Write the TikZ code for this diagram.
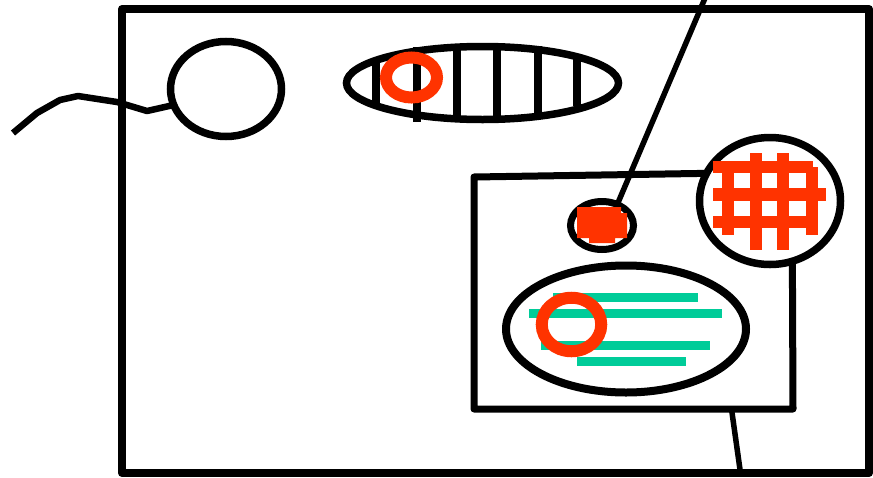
\documentclass[tikz,border=0pt]{standalone}
\usetikzlibrary{shapes.geometric}
\definecolor{hot}{HTML}{FF3300}
\definecolor{mint}{HTML}{00CC99}
\begin{document}
\begin{tikzpicture}[x=1pt,y=-1pt,
  oval/.style={ellipse, draw=black, inner sep=0pt, outer sep=0pt},
  ring/.style={ellipse, draw=hot, inner sep=0pt, outer sep=0pt},
  blackbar/.style={draw=black, line width=8.5pt},
  tealbar/.style={draw=mint, line width=9pt},
  conn/.style={draw=black, line width=5.5pt},
  wire/.style={draw=black, line width=6.5pt, line join=round},
  box/.style={draw=black, line join=round}]
\useasboundingbox (0,0) rectangle (873,477);

% main frame
\node[rectangle, box, line width=8pt, minimum width=747pt, minimum height=464pt, inner sep=0pt, outer sep=0pt] (frame) at (495.5,241) {};

% inner box
\coordinate (itl) at (474,177);
\coordinate (itr) at (792,172);
\coordinate (ibr) at (793,409);
\coordinate (ibl) at (474,409);
\draw[box, line width=7pt] (itl) -- (itr) -- (ibr) -- (ibl) -- cycle;

% bottom connector
\coordinate (ib) at (731.5,409);
\coordinate (fb) at (740.5,473);
\draw[conn] (ib) -- (fb);

% big circle with grid
\node[oval, line width=7.5pt, fill=white, minimum width=141pt, minimum height=127pt] (bigc) at (770,201) {};
\fill[hot] (713,161) rectangle (813,173);
\fill[hot] (713,188) rectangle (826,201);
\fill[hot] (713,216) rectangle (818,228);
\fill[hot] (722,161) rectangle (734,235);
\fill[hot] (750,153) rectangle (762,250);
\fill[hot] (777,153) rectangle (789,250);
\fill[hot] (806,167) rectangle (818,235);

% small ellipse with red block
\node[oval, line width=7pt, minimum width=63pt, minimum height=48pt] (se) at (602,225.5) {};
\fill[hot] (577,207) -- (621,207) -- (621,213) -- (627,213) -- (627,238) -- (615,238) -- (615,243) -- (589,243) -- (589,238) -- (577,238) -- cycle;
\coordinate (topend) at (705.5,-3);
\draw[conn] (se.54) -- (topend);

% big ellipse with teal lines
\node[oval, line width=8pt, minimum width=240pt, minimum height=127pt] (bigo) at (626,329) {};
\draw[tealbar] (553,297.5) -- (698,297.5);
\draw[tealbar] (529,313) -- (722,313);
\draw[tealbar] (541,345.5) -- (710,345.5);
\draw[tealbar] (577,361.5) -- (686,361.5);
\node[ring, line width=12pt, minimum width=59.5pt, minimum height=53.5pt] (r2) at (571.5,324.5) {};

% top ellipse with bars
\node[oval, line width=7.5pt, minimum width=272pt, minimum height=73pt] (topo) at (482.5,83) {};
\draw[blackbar] (376,61) -- (376,103);
\draw[blackbar] (417,47) -- (417,122);
\draw[blackbar] (457,45) -- (457,121);
\draw[blackbar] (497,45) -- (497,121);
\draw[blackbar] (538,46) -- (538,119);
\draw[blackbar] (577,55) -- (577,106);
\node[ring, line width=12pt, minimum width=51pt, minimum height=40pt] (r1) at (411.5,77.5) {};

% top-left circle with wire
\node[oval, line width=7.5pt, minimum width=111pt, minimum height=95pt] (tlc) at (226,89) {};
\coordinate (w0) at (13,133);
\coordinate (w1) at (37,113);
\coordinate (w2) at (60,100);
\coordinate (w3) at (78,96);
\coordinate (w4) at (117,102);
\coordinate (w5) at (147,111);
\draw[wire] (w0) -- (w1) -- (w2) -- (w3) -- (w4) -- (w5) -- (tlc.197);
\end{tikzpicture}
\end{document}
